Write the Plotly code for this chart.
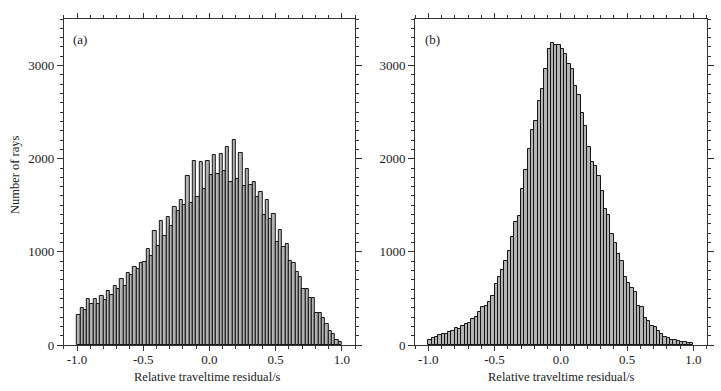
import plotly.graph_objects as go

# ---- data ----
bin_width = 0.025
bin_start = -1.0
counts_a = [323, 394, 376, 491, 437, 498, 437, 523, 487, 581, 534, 634, 602, 706, 638, 771, 753, 835, 817, 878,
            889, 1029, 960, 1219, 1061, 1333, 1165, 1376, 1283, 1480, 1437, 1556, 1505, 1810, 1520, 1975, 1591, 1961, 1674, 1971,
            1824, 2039, 1839, 2046, 1864, 2125, 1749, 2201, 1778, 2057, 1710, 1885, 1720, 1749, 1591, 1642, 1398, 1556, 1351, 1409,
            1104, 1233, 1054, 1086, 903, 878, 781, 735, 602, 602, 505, 505, 341, 341, 287, 226, 147, 115, 54, 32]
counts_b = [57, 72, 90, 108, 115, 115, 136, 151, 179, 172, 204, 222, 233, 280, 305, 358, 412, 423, 466, 527,
            656, 728, 810, 907, 1004, 1161, 1319, 1380, 1677, 1878, 2108, 2305, 2409, 2616, 2749, 2968, 3176, 3247, 3219, 3226,
            3179, 3125, 3018, 2961, 2778, 2681, 2487, 2355, 2122, 1964, 1921, 1810, 1656, 1462, 1398, 1197, 1097, 975, 907, 728,
            663, 609, 566, 423, 405, 294, 258, 208, 190, 151, 122, 86, 72, 54, 54, 47, 36, 29, 22, 18]
x_tickvals = [-1.0, -0.5, 0.0, 0.5, 1.0]
x_ticktext = ["-1.0", "-0.5", "0.0", "0.5", "1.0"]
y_tickvals = [0, 1000, 2000, 3000]
y_ticktext = ["0", "1000", "2000", "3000"]
x_title = "Relative traveltime residual/s"
y_title = "Number of rays"
panel_labels = ["(a)", "(b)"]

centers_a = [round(bin_start + bin_width * (i + 0.5), 4) for i in range(len(counts_a))]
centers_b = [round(bin_start + bin_width * (i + 0.5), 4) for i in range(len(counts_b))]

W, H = 721, 391
FONT = "Liberation Serif"
INK = "#1a1a1a"
bar_style = dict(color="#b3b3b3", line=dict(color="#151515", width=1))

fig = go.Figure()
fig.add_trace(go.Bar(x=centers_a, y=counts_a, width=bin_width, marker=bar_style, xaxis="x", yaxis="y",
                     showlegend=False, hoverinfo="x+y"))
fig.add_trace(go.Bar(x=centers_b, y=counts_b, width=bin_width, marker=bar_style, xaxis="x2", yaxis="y2",
                     showlegend=False, hoverinfo="x+y"))

def xax(domain, anchor):
    return dict(domain=domain, anchor=anchor, range=[-1.1, 1.1], tickmode="array",
                tickvals=x_tickvals, ticktext=x_ticktext, ticks="outside", ticklen=5, tickwidth=1,
                tickcolor="#333", showline=True, linecolor="#333", linewidth=1, mirror="ticks",
                showgrid=False, zeroline=False, automargin=False, ticklabelstandoff=-3,
                tickfont=dict(family=FONT, size=13, color=INK),
                minor=dict(tickmode="linear", tick0=0, dtick=0.1, ticks="outside", ticklen=3,
                           tickcolor="#333", showgrid=False))

def yax(anchor):
    return dict(domain=[46 / H, 372 / H], anchor=anchor, range=[0, 3500], tickmode="array",
                tickvals=y_tickvals, ticktext=y_ticktext, ticks="outside", ticklen=6, tickwidth=1,
                tickcolor="#333", showline=True, linecolor="#333", linewidth=1, mirror="ticks",
                showgrid=False, zeroline=False, automargin=False,
                tickfont=dict(family=FONT, size=13, color=INK),
                minor=dict(tickmode="linear", tick0=0, dtick=100, ticks="outside", ticklen=3,
                           tickcolor="#333", showgrid=False))

dom_a = [63.8 / W, 355 / W]
dom_b = [415 / W, 706.5 / W]

def ann(text, xpx, ypx, size, angle=0):
    return dict(text=text, x=xpx / W, y=(H - ypx) / H, xref="paper", yref="paper",
                xanchor="center", yanchor="middle", textangle=angle, showarrow=False,
                font=dict(family=FONT, size=size, color=INK))

fig.update_layout(
    width=W, height=H, margin=dict(l=0, r=0, t=0, b=0),
    paper_bgcolor="white", plot_bgcolor="white", bargap=0,
    xaxis=xax(dom_a, "y"), yaxis=yax("x"),
    xaxis2=xax(dom_b, "y2"), yaxis2=yax("x2"),
    font=dict(family=FONT, color=INK),
    annotations=[
        ann(x_title, 207, 377, 12.5),
        ann(x_title, 561, 377, 12.5),
        ann(y_title, 15, 175, 12.5, -90),
        ann(panel_labels[0], 79.5, 40, 13),
        ann(panel_labels[1], 432.5, 40, 13),
    ],
)

fig.write_html("out.html", config={"displayModeBar": False},
               post_script="document.body.style.margin='0';")
